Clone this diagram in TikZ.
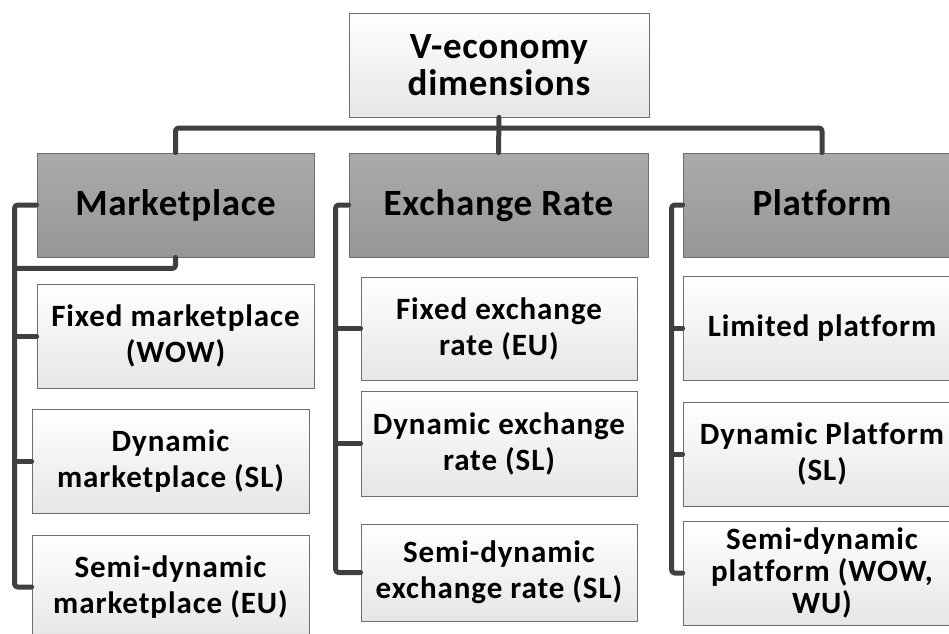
\documentclass[tikz,border=0pt]{standalone}
\usepackage{fontspec}
\setmainfont{Carlito}
\usepackage{xcolor}
\usepackage{tikz}
\usetikzlibrary{calc}
\definecolor{line}{HTML}{404040}
\definecolor{edge}{HTML}{6E6E6E}
\definecolor{headtop}{HTML}{AAAAAA}
\definecolor{headbot}{HTML}{979797}
\definecolor{leaftop}{HTML}{FFFFFF}
\definecolor{leafbot}{HTML}{E6E6E6}
\newfontfamily\bigfont[LetterSpace=2,Ligatures=NoCommon]{Carlito}
\newfontfamily\smallfont[LetterSpace=3,Ligatures=NoCommon]{Carlito}
\tikzset{
  conn/.style={draw=line, line width=5pt, line cap=round, line join=round, rounded corners=3pt},
  box/.style={draw=edge, line width=0.8pt, align=center, inner sep=0pt},
  top/.style={box, top color=leaftop, bottom color=leafbot, font=\bigfont\fontsize{37}{37}\selectfont\bfseries},
  head/.style={box, top color=headtop, bottom color=headbot, text height=27pt, text depth=7pt,
    font=\bigfont\fontsize{37}{37}\selectfont\bfseries},
  leaf/.style={box, top color=leaftop, bottom color=leafbot, font=\smallfont\fontsize{31}{36}\selectfont\bfseries},
}

\begin{document}
\begin{tikzpicture}[x=1pt,y=-1pt]
  \useasboundingbox[fill=white] (0,0) rectangle (949,633);
  % root and the three dimensions
  \node[top,minimum width=300,minimum height=104] (root) at (499,65) {V-economy\\dimensions};
  \node[head,minimum width=277,minimum height=104] (mkt) at (175.5,205) {Marketplace};
  \node[head,minimum width=299,minimum height=104] (exr) at (498.5,205) {Exchange Rate};
  \node[head,minimum width=278,minimum height=104] (plt) at (822,205) {Platform};
  % marketplace column
  \node[leaf,minimum width=277,minimum height=104] (mkt1) at (175.5,336) {Fixed marketplace\\(WOW)};
  \node[leaf,minimum width=277,minimum height=104] (mkt2) at (170.5,461) {Dynamic\\marketplace (SL)};
  \node[leaf,minimum width=277,minimum height=104] (mkt3) at (170.5,587) {Semi-dynamic\\marketplace (EU)};
  % exchange rate column
  \node[leaf,minimum width=276,minimum height=103] (exr1) at (499,328.5) {Fixed exchange\\rate (EU)};
  \node[leaf,minimum width=276,minimum height=105] (exr2) at (499,443.5) {Dynamic exchange\\rate (SL)};
  \node[leaf,minimum width=276,minimum height=97] (exr3) at (499,572.5) {Semi-dynamic\\exchange rate (SL)};
  % platform column
  \node[leaf,minimum width=278,minimum height=104] (plt1) at (822,328) {Limited platform};
  \node[leaf,minimum width=278,minimum height=104] (plt2) at (822,454) {Dynamic Platform\\(SL)};
  \node[leaf,minimum width=278,minimum height=104,font=\smallfont\fontsize{31}{32}\selectfont\bfseries] (plt3) at (822,573) {Semi-dynamic\\platform (WOW,\\WU)};
  % top bar
  \coordinate (bar) at (499,128);
  \draw[conn] (root.south) -- (exr.north);
  \draw[conn] (mkt.north) |- (bar) -| (plt.north);
  % brackets
  \draw[conn] (mkt.west) -- ++(-22,0) |- (mkt3.west);
  \draw[conn] (mkt1.west) -- ++(-22,0);
  \draw[conn] (mkt2.west) -- ++(-17,0);
  \draw[conn] (mkt.south) -- ++(0,11) -- ++(-160,0);
  \draw[conn] (exr.west) -- ++(-13,0) |- (exr3.west);
  \draw[conn] (exr1.west) -- ++(-25,0);
  \draw[conn] (exr2.west) -- ++(-25,0);
  \draw[conn] (plt.west) -- ++(-11,0) |- (plt3.west);
  \draw[conn] (plt1.west) -- ++(-11,0);
  \draw[conn] (plt2.west) -- ++(-11,0);
\end{tikzpicture}
\end{document}
